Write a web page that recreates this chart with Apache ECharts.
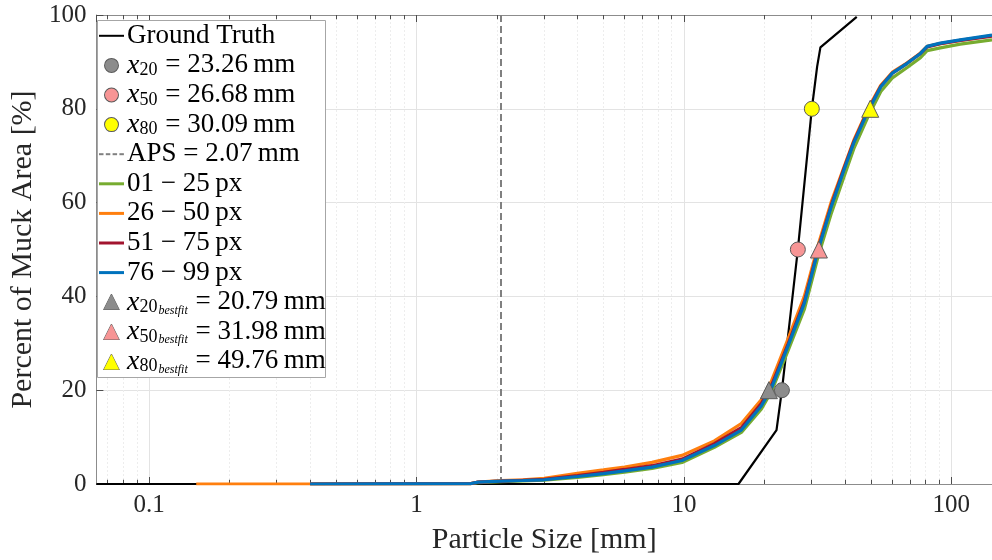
<!DOCTYPE html>
<html><head><meta charset="utf-8">
<script src="https://cdn.jsdelivr.net/npm/echarts@6/dist/echarts.min.js"></script>
<style>html,body{margin:0;padding:0;background:#fff}#c{width:992px;height:560px}</style>
</head><body><div id="c"></div>
<script>
// ---- data ----
const xTickLabels = ['0.1', '1', '10', '100'];
const yTicks = [0, 20, 40, 60, 80, 100];
const gtX = [0.0635, 16.0, 22.2, 23.26, 26.68, 30.09, 31.5, 32.4, 44.3];
const gtY = [0, 0, 11.5, 20, 50, 80, 89, 93.1, 99.6];
const pctX = [23.26, 26.68, 30.09];
const pctY = [20, 50, 80];
const fitX = [20.79, 31.98, 49.76];
const fitY = [20, 50, 80];
const apsX = 2.07;
const xs = [0.15, 0.4, 1.6, 1.7, 2.07, 2.5, 3.0, 4.0, 5.0, 6.0, 7.6, 9.84, 13.0, 16.4, 19.5, 21.2, 24.5, 28.2, 31.8, 35.5, 39.7, 43.2, 48.8, 54.5, 60.2, 68.4, 76.7, 81.2, 91.0, 108, 142];
const green = [null, 0, 0.1, 0.3, 0.5, 0.65, 0.8, 1.4, 2.0, 2.5, 3.3, 4.6, 7.8, 11.0, 16.0, 19.6, 28.4, 37.2, 48.6, 57.5, 65.5, 71.5, 78.3, 83.7, 86.6, 88.8, 90.9, 92.4, 93.0, 93.8, 94.7];
const orange = [0, 0, 0.1, 0.4, 0.7, 0.9, 1.2, 2.3, 3.0, 3.6, 4.6, 6.1, 9.2, 12.9, 18.0, 21.8, 30.9, 40.0, 51.0, 60.0, 67.6, 73.3, 80.0, 85.0, 87.8, 89.8, 91.9, 93.3, 93.9, 94.6, 95.6];
const red = [null, 0, 0.1, 0.4, 0.6, 0.8, 1.0, 1.8, 2.5, 3.1, 3.9, 5.3, 8.6, 12.0, 17.2, 20.8, 29.8, 38.9, 50.3, 59.3, 67.3, 73.0, 79.7, 84.8, 87.6, 89.7, 91.8, 93.2, 93.9, 94.6, 95.5];
const blue = [null, 0, 0.1, 0.4, 0.6, 0.75, 0.9, 1.6, 2.2, 2.8, 3.6, 5.0, 8.2, 11.5, 16.7, 20.3, 29.4, 38.5, 50, 59, 67, 72.8, 79.5, 84.7, 87.6, 89.7, 91.8, 93.3, 94.0, 94.7, 95.7];
const xMin = 0.0635, xMax = 142;

// ---- helpers ----
const F = 'Liberation Serif, Times New Roman, serif';
function pairs(x, y) { const r = []; for (let i = 0; i < x.length; i++) if (y[i] !== null) r.push([x[i], y[i]]); return r; }
const minorVals = [];
for (let d = -2; d <= 2; d++) for (let k = 2; k <= 9; k++) { const v = k * Math.pow(10, d); if (v > xMin && v < xMax) minorVals.push(v); }
const minorGrid = minorVals.map(v => [{ coord: [v, 0] }, { coord: [v, 100] }]);
const minorTicks = [];
minorVals.forEach(v => { minorTicks.push([{ coord: [v, 0] }, { coord: [v, 0.9] }]); minorTicks.push([{ coord: [v, 100] }, { coord: [v, 99.1] }]); });

const mkEdge = '#5a5a5a';
const circColors = ['#8c8c8c', '#f79595', '#ffff00'];
const C = { gt: '#000000', aps: '#808080', g: '#77ac30', o: '#ff7f0e', r: '#a2142f', b: '#0072bd' };
const AX = '#8c8c8c', TK = '#4d4d4d';

const DASH = '{Dd| }{g2| }{Dd| }{g2| }{Dd| }{g2| }{Dd| }';
const legendText = {
  'Ground Truth': '{Lk| }{g3| }{n|Ground Truth}',
  'x20': '{g6| }{C0| }{g6| }{g3| }{i|x}{s|20}{n| = 23.26\u2009mm}',
  'x50': '{g6| }{C1| }{g6| }{g3| }{i|x}{s|50}{n| = 26.68\u2009mm}',
  'x80': '{g6| }{C2| }{g6| }{g3| }{i|x}{s|80}{n| = 30.09\u2009mm}',
  'APS': DASH + '{g3| }{n|APS = 2.07\u2009mm}',
  'g': '{Lg| }{g3| }{n|01 \u2212 25\u2009px}',
  'o': '{Lo| }{g3| }{n|26 \u2212 50\u2009px}',
  'r': '{Lr| }{g3| }{n|51 \u2212 75\u2009px}',
  'b': '{Lb| }{g3| }{n|76 \u2212 99\u2009px}',
  'f20': '{T0|\u25B2}{g3| }{i|x}{s|20}{b|bestfit}{n| = 20.79\u2009mm}',
  'f50': '{T1|\u25B2}{g3| }{i|x}{s|50}{b|bestfit}{n| = 31.98\u2009mm}',
  'f80': '{T2|\u25B2}{g3| }{i|x}{s|80}{b|bestfit}{n| = 49.76\u2009mm}'
};

const line = (name, data, color, w, z, extra) => Object.assign({
  name, type: 'line', data, symbol: 'none', showSymbol: false, z,
  lineStyle: { color, width: w }, itemStyle: { color }, animation: false, silent: true
}, extra || {});
const marker = (name, pt, color, sym, z) => ({
  name, type: 'scatter', data: [pt], symbol: sym, symbolSize: sym === 'circle' ? 15 : 17, z,
  itemStyle: { color, borderColor: mkEdge, borderWidth: 1, opacity: 1 }, animation: false, silent: true
});

const series = [
  line('Ground Truth', pairs(gtX, gtY), C.gt, 2.2, 5, {
    markLine: { silent: true, symbol: 'none', label: { show: false }, animation: false,
      lineStyle: { color: '#ededed', width: 1, type: [2, 2] }, data: minorGrid }
  }),
  marker('x20', [pctX[0], pctY[0]], circColors[0], 'circle', 20),
  marker('x50', [pctX[1], pctY[1]], circColors[1], 'circle', 20),
  marker('x80', [pctX[2], pctY[2]], circColors[2], 'circle', 20),
  line('APS', [[apsX, 0], [apsX, 100]], C.aps, 2, 4, { lineStyle: { color: C.aps, width: 2, type: [7, 4] } }),
  line('g', pairs(xs, green), C.g, 3.2, 6),
  line('o', pairs(xs, orange), C.o, 3.2, 7),
  line('r', pairs(xs, red), C.r, 3.2, 8),
  line('b', pairs(xs, blue), C.b, 3.2, 9, {
    markLine: { silent: true, symbol: 'none', label: { show: false }, animation: false,
      lineStyle: { color: TK, width: 1, type: 'solid' }, data: minorTicks }
  }),
  marker('f20', [fitX[0], fitY[0]], circColors[0], 'triangle', 21),
  marker('f50', [fitX[1], fitY[1]], circColors[1], 'triangle', 21),
  marker('f80', [fitX[2], fitY[2]], circColors[2], 'triangle', 21)
];

const LH = 29.6;
const rich = {
  n: { fontFamily: F, fontSize: 27, color: '#000', lineHeight: LH },
  i: { fontFamily: F, fontSize: 28, fontStyle: 'italic', color: '#000', lineHeight: LH },
  s: { fontFamily: F, fontSize: 18, color: '#000', lineHeight: LH, padding: [10, 1, 0, 0] },
  b: { fontFamily: F, fontSize: 12, fontStyle: 'italic', color: '#000', lineHeight: LH, padding: [17, 1, 0, 0] },
  g2: { width: 2.3, fontSize: 4 }, g3: { width: 3, fontSize: 4 }, g6: { width: 6, fontSize: 4 },
  Lk: { width: 25, height: 2, fontSize: 2, backgroundColor: C.gt },
  Lg: { width: 25, height: 3, fontSize: 2, backgroundColor: C.g },
  Lo: { width: 25, height: 3, fontSize: 2, backgroundColor: C.o },
  Lr: { width: 25, height: 3, fontSize: 2, backgroundColor: C.r },
  Lb: { width: 25, height: 3, fontSize: 2, backgroundColor: C.b },
  Dd: { width: 4.5, height: 2, fontSize: 2, backgroundColor: C.aps }
};
circColors.forEach((c, k) => {
  rich['C' + k] = { width: 13, height: 13, fontSize: 2, borderRadius: 7, backgroundColor: c, borderColor: mkEdge, borderWidth: 1 };
  rich['T' + k] = { width: 25, align: 'center', fontFamily: 'DejaVu Sans', fontSize: 20, color: c, textBorderColor: mkEdge, textBorderWidth: 1, lineHeight: LH };
});

const chart = echarts.init(document.getElementById('c'), null, { renderer: 'canvas' });
chart.setOption({
  backgroundColor: '#fff',
  animation: false,
  grid: { left: 91, right: 0, top: 15, bottom: 75, containLabel: false },
  graphic: [{ type: 'rect', z: 30, silent: true,
    shape: { x: 97.5, y: 20.5, width: 228, height: 357 },
    style: { fill: '#fff', stroke: '#a6a6a6', lineWidth: 1 } }],
  xAxis: [{
    type: 'log', logBase: 10, min: xMin, max: xMax, position: 'bottom',
    name: 'Particle Size [mm]', nameLocation: 'middle', nameGap: 41,
    nameTextStyle: { fontFamily: F, fontSize: 30, color: '#262626' },
    axisLine: { show: true, lineStyle: { color: AX, width: 1 } },
    axisTick: { show: true, inside: true, length: 7, lineStyle: { color: TK } },
    axisLabel: { fontFamily: F, fontSize: 25, color: '#262626', margin: 9, showMinLabel: false, showMaxLabel: false,
      formatter: v => { const s = xTickLabels.find(t => Math.abs(Math.log10(+t) - Math.log10(v)) < 1e-6); return s || ''; } },
    splitLine: { show: true, lineStyle: { color: '#e3e3e3', width: 1 } }
  }, {
    type: 'log', logBase: 10, min: xMin, max: xMax, position: 'top',
    axisLine: { show: true, lineStyle: { color: AX, width: 1 } },
    axisTick: { show: true, inside: true, length: 7, lineStyle: { color: TK } },
    axisLabel: { show: false }, splitLine: { show: false }
  }],
  yAxis: {
    type: 'value', min: 0, max: 100, interval: 20,
    name: 'Percent of Muck Area [%]', nameLocation: 'middle', nameGap: 50,
    nameTextStyle: { fontFamily: F, fontSize: 30, color: '#262626' },
    axisLine: { show: true, lineStyle: { color: AX, width: 1 } },
    axisTick: { show: true, inside: true, length: 7, lineStyle: { color: TK } },
    axisLabel: { fontFamily: F, fontSize: 25, color: '#262626', margin: 10,
      formatter: v => yTicks.includes(v) ? String(v) : '' },
    splitLine: { show: true, lineStyle: { color: '#e3e3e3', width: 1 } }
  },
  legend: {
    orient: 'vertical', left: 93, top: 21, padding: 0, z: 31,
    itemWidth: 0, itemHeight: 0, itemGap: 0, selectedMode: false,
    data: series.map(s => ({ name: s.name, itemStyle: { opacity: 0 }, lineStyle: { opacity: 0, width: 0 } })),
    formatter: n => legendText[n],
    textStyle: { fontFamily: F, fontSize: 27, color: '#000', lineHeight: LH, rich }
  },
  series
});
</script></body></html>
